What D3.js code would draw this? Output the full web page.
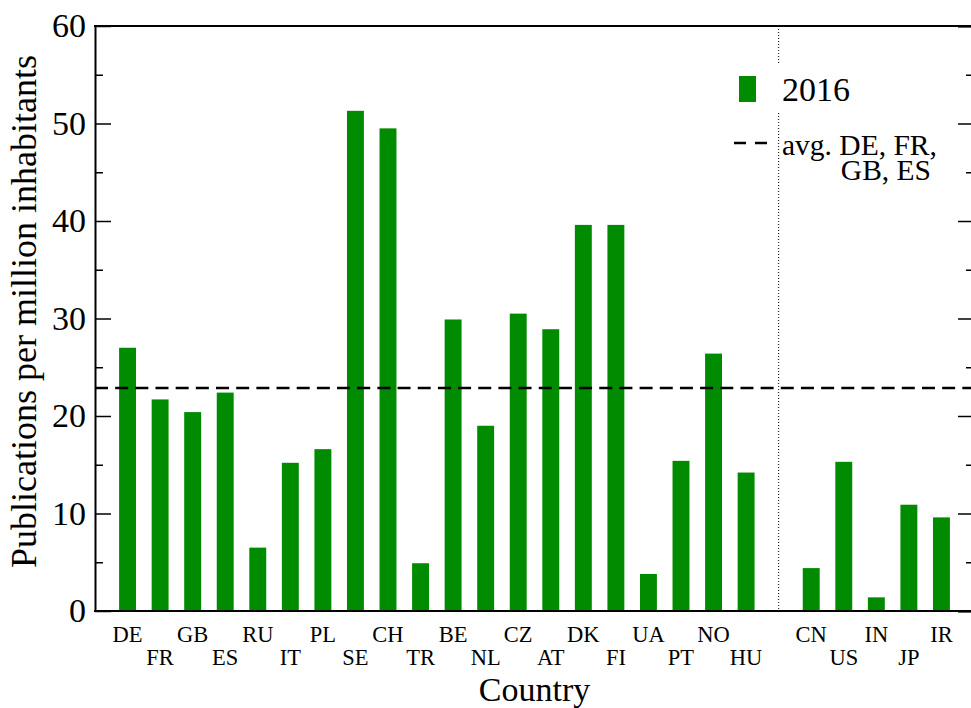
<!DOCTYPE html>
<html lang="en">
	<head>
		<meta charset="utf-8">
		<title>Publications per million inhabitants</title>
    <script src="https://cdn.jsdelivr.net/npm/d3@7"></script>
    <style>
      body { margin: 0; background: #fff; }
      text { font-family: "Liberation Serif", "DejaVu Serif", serif; fill: #000; }
    </style>
	</head>
	<body>
		<script type="text/javascript">

			//Width and height
			var w = 971;
			var h = 708;

      var margin = {top: 26, right: -3, bottom: 97, left: 95};

      // Data (2016)
      var europeCountries = ["DE", "FR", "GB", "ES", "RU", "IT", "PL", "SE", "CH", "TR",
                             "BE", "NL", "CZ", "AT", "DK", "FI", "UA", "PT", "NO", "HU"];
      var europeValues = [27.0, 21.7, 20.4, 22.4, 6.5, 15.2, 16.6, 51.3, 49.5, 4.9,
                          29.9, 19.0, 30.5, 28.9, 39.6, 39.6, 3.8, 15.4, 26.4, 14.2];
      var otherCountries = ["CN", "US", "IN", "JP", "IR"];
      var otherValues = [4.4, 15.3, 1.4, 10.9, 9.6];

      var yTicks = [0, 10, 20, 30, 40, 50, 60];
      var yMinorTicks = [5, 15, 25, 35, 45, 55];
      var avgCountries = ["DE", "FR", "GB", "ES"];

      // europe in slots 1..20, gap at 21, others in 22..26
      var dataset = europeCountries.map((c, i) => ({country: c, value: europeValues[i], slot: i + 1}))
          .concat(otherCountries.map((c, i) => ({country: c, value: otherValues[i], slot: i + 22})));
      var separatorSlot = europeCountries.length + 1;

      var avg = d3.mean(avgCountries, c => europeValues[europeCountries.indexOf(c)]);

      var green = "#008b00";

      var x = d3.scaleLinear()
          .domain([0, 27])
          .range([margin.left, w - margin.right]);

      var y = d3.scaleLinear()
          .domain([0, 60])
          .range([h - margin.bottom, margin.top]);

      var barWidth = x(0.52) - x(0);

    // Create SVG element
		var svg = d3.select("body")
            .append("svg")
            .attr("width", w)
            .attr("height", h);

    // Bars
      svg.selectAll("rect.bar")
          .data(dataset)
          .enter()
          .append("rect")
          .attr("class", "bar")
          .attr("x", d => x(d.slot) - barWidth / 2)
          .attr("y", d => y(d.value))
          .attr("width", barWidth)
          .attr("height", d => y(0) - y(d.value))
          .attr("fill", green);

    // Separator between europe and the rest
      svg.append("line")
          .attr("x1", x(separatorSlot))
          .attr("x2", x(separatorSlot))
          .attr("y1", y(60))
          .attr("y2", y(0))
          .attr("stroke", "#000")
          .attr("stroke-width", 1)
          .attr("stroke-dasharray", "1,2");

    // Average line
      svg.append("line")
          .attr("x1", x(0))
          .attr("x2", x(27))
          .attr("y1", y(avg))
          .attr("y2", y(avg))
          .attr("stroke", "#000")
          .attr("stroke-width", 2.5)
          .attr("stroke-dasharray", "13,7.17");

    // Axes
      svg.append("g")
          .attr("transform", "translate(" + x(0) + ",0)")
          .call(d3.axisLeft(y).tickValues(yTicks).tickSizeInner(-16).tickSizeOuter(0).tickPadding(9))
          .call(g => g.selectAll("text").attr("font-size", 34).attr("font-family", null))
          .call(g => g.select(".domain").attr("stroke-width", 2));

      svg.append("g")
          .attr("transform", "translate(" + x(0) + ",0)")
          .call(d3.axisLeft(y).tickValues(yMinorTicks).tickSize(-8).tickFormat(""))
          .call(g => g.select(".domain").remove());

      svg.append("g")
          .attr("transform", "translate(" + x(27) + ",0)")
          .call(d3.axisRight(y).tickValues(yTicks).tickSize(-16).tickFormat(""))
          .call(g => g.select(".domain").attr("stroke-width", 2));

      svg.append("g")
          .attr("transform", "translate(" + x(27) + ",0)")
          .call(d3.axisRight(y).tickValues(yMinorTicks).tickSize(-8).tickFormat(""))
          .call(g => g.select(".domain").remove());

      svg.selectAll(".tick line").attr("stroke-width", 1.5);

    // top and bottom frame
      [0, 60].forEach(v => {
        svg.append("line")
            .attr("x1", x(0) - 1)
            .attr("x2", x(27))
            .attr("y1", y(v))
            .attr("y2", y(v))
            .attr("stroke", "#000")
            .attr("stroke-width", 2);
      });

    // Country labels in two rows
      svg.selectAll("text.country")
          .data(dataset)
          .enter()
          .append("text")
          .attr("class", "country")
          .attr("x", d => x(d.slot))
          .attr("y", (d, i) => i % 2 === 0 ? 642 : 665)
          .attr("text-anchor", "middle")
          .attr("font-size", 22.5)
          .text(d => d.country);

    // Axis titles
      svg.append("text")
          .attr("x", (x(0) + x(27)) / 2)
          .attr("y", 701)
          .attr("text-anchor", "middle")
          .attr("font-size", 34)
          .text("Country");

      svg.append("text")
          .attr("transform", "translate(36," + ((y(0) + y(60)) / 2 - 7) + ") rotate(-90)")
          .attr("text-anchor", "middle")
          .attr("font-size", 36)
          .text("Publications per million inhabitants");

    // Legend
      var legend = svg.append("g");

      legend.append("rect")
          .attr("x", 770)
          .attr("y", 63)
          .attr("width", 90)
          .attr("height", 50)
          .attr("fill", "#fff");

      legend.append("rect")
          .attr("x", 739)
          .attr("y", 76)
          .attr("width", 17)
          .attr("height", 26)
          .attr("fill", green);

      legend.append("text")
          .attr("x", 782)
          .attr("y", 101)
          .attr("font-size", 34)
          .text("2016");

      legend.append("line")
          .attr("x1", 734)
          .attr("x2", 767)
          .attr("y1", 143)
          .attr("y2", 143)
          .attr("stroke", "#000")
          .attr("stroke-width", 2.5)
          .attr("stroke-dasharray", "12,9");

      legend.append("text")
          .attr("x", 782)
          .attr("y", 155)
          .attr("font-size", 29.5)
          .text("avg. " + avgCountries.slice(0, 2).join(", ") + ",");

      legend.append("text")
          .attr("x", 931)
          .attr("y", 180)
          .attr("text-anchor", "end")
          .attr("font-size", 29.5)
          .text(avgCountries.slice(2).join(", "));

		</script>
	</body>
</html>
